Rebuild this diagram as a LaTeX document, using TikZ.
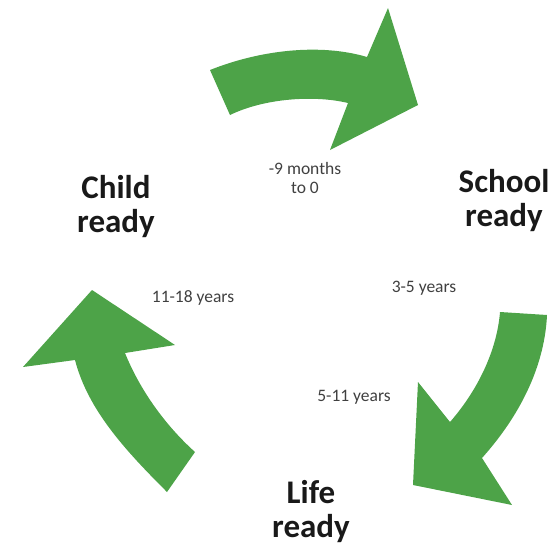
\documentclass[tikz,border=0pt]{standalone}
\usepackage{fontspec}
\setmainfont{Carlito}
\definecolor{cyclegreen}{RGB}{77,163,72}

\begin{document}
\begin{tikzpicture}[x=1pt,y=-1pt,
  stage/.style={font=\bfseries\fontsize{33}{33.5}\selectfont,text=black!90,
    align=center,anchor=base,inner sep=0pt},
  age/.style={font=\fontsize{17.5}{19}\selectfont,text=black!75,
    align=center,anchor=base,inner sep=0pt},
  greenarrow/.style={fill=cyclegreen,draw=none}]
  \useasboundingbox (0,0) rectangle (558,547);

  % top arrow: child -> school
  \coordinate (a1) at (210,70);
  \coordinate (a2) at (367,57);
  \coordinate (a3) at (388,8);
  \coordinate (a4) at (418,105);
  \coordinate (a5) at (330,150);
  \coordinate (a6) at (348,103);
  \coordinate (a7) at (230,115);
  \fill[greenarrow] (a1) .. controls (260,50) and (320,43) .. (a2) -- (a3) -- (a4)
    -- (a5) -- (a6) .. controls (315,95) and (265,98) .. (a7) -- cycle;

  % right arrow: school -> life
  \coordinate (b1) at (500,312);
  \coordinate (b2) at (547,315);
  \coordinate (b3) at (482,458);
  \coordinate (b4) at (512,505);
  \coordinate (b5) at (413,485);
  \coordinate (b6) at (418,382);
  \coordinate (b7) at (450,422);
  \fill[greenarrow] (b1) -- (b2) .. controls (545,360) and (525,410) .. (b3) -- (b4)
    -- (b5) -- (b6) -- (b7) .. controls (478,390) and (497,350) .. (b1) -- cycle;

  % left arrow: life -> child
  \coordinate (c1) at (195,452);
  \coordinate (c2) at (167,492);
  \coordinate (c3) at (75,360);
  \coordinate (c4) at (23,367);
  \coordinate (c5) at (92,290);
  \coordinate (c6) at (175,345);
  \coordinate (c7) at (125,353);
  \fill[greenarrow] (c1) -- (c2) .. controls (125,450) and (88,410) .. (c3) -- (c4)
    -- (c5) -- (c6) -- (c7) .. controls (140,390) and (165,425) .. (c1) -- cycle;

  % base anchor sits on the last line
  \node[stage] (child) at (116,232) {Child\\ready};
  \node[stage] (school) at (504,226) {School\\ready};
  \node[stage] (life) at (311,537) {Life\\ready};

  \node[age] (prenatal) at (305,193) {-9 months\\to 0};
  \node[age] (early) at (424,292) {3-5 years};
  \node[age] (primary) at (354,401) {5-11 years};
  \node[age] (secondary) at (193,302) {11-18 years};
\end{tikzpicture}
\end{document}
